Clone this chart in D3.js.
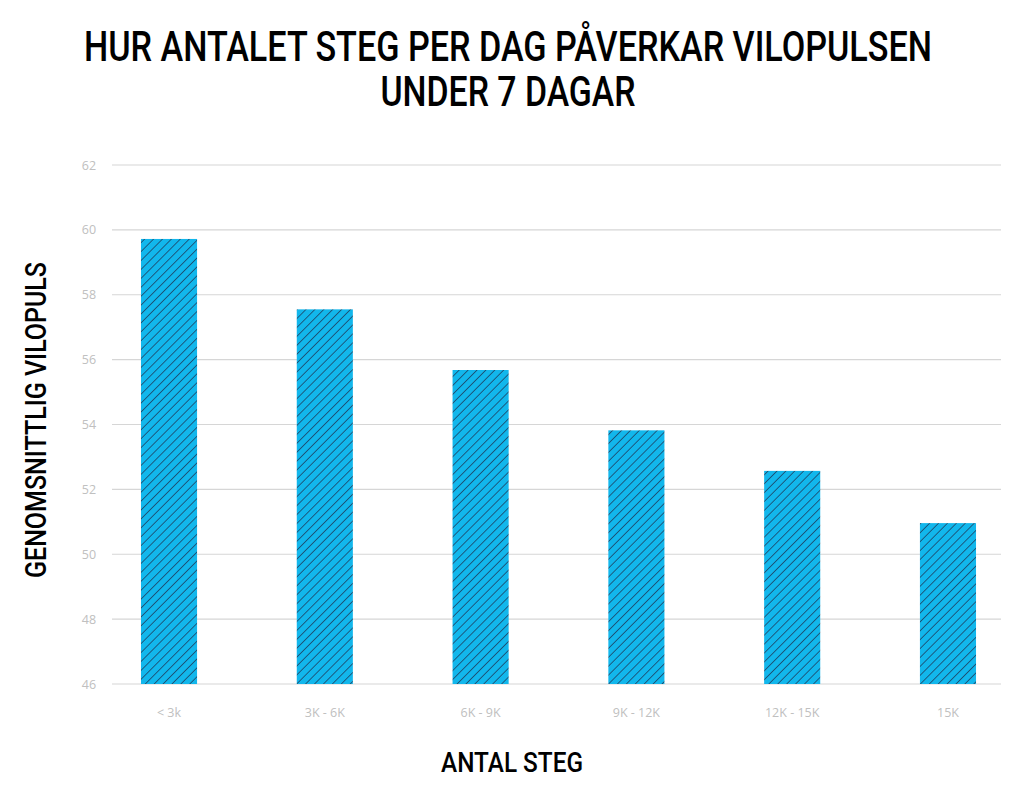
<!DOCTYPE html>
<html>
<head>
<meta charset="utf-8">
<script src="https://cdn.jsdelivr.net/npm/d3@7"></script>
<style>
  body { margin: 0; background: #fff; }
  svg { display: block; }
</style>
</head>
<body>
<svg id="chart" width="1024" height="798"></svg>
<script>
const categories = ['< 3k', '3K - 6K', '6K - 9K', '9K - 12K', '12K - 15K', '15K'];
const pulseValues = [59.72, 57.55, 55.68, 53.82, 52.57, 50.96];
const yTicks = [46, 48, 50, 52, 54, 56, 58, 60, 62];
const titleLines = ['HUR ANTALET STEG PER DAG PÅVERKAR VILOPULSEN', 'UNDER 7 DAGAR'];
const yTitle = 'GENOMSNITTLIG VILOPULS';
const xTitle = 'ANTAL STEG';

const svg = d3.select('#chart');
const heavy = 'Roboto, "Liberation Sans Narrow", sans-serif';

const x = d3.scaleBand()
  .domain(categories)
  .range([112, 1005])
  .paddingInner(0.64)
  .paddingOuter(0.186);

const y = d3.scaleLinear()
  .domain([46, 62])
  .range([684, 165]);

// hatch pattern
const defs = svg.append('defs');
const pat = defs.append('pattern')
  .attr('id', 'hatch')
  .attr('patternUnits', 'userSpaceOnUse')
  .attr('width', 6.3)
  .attr('height', 6.3)
  .attr('patternTransform', 'rotate(45)');
pat.append('rect').attr('width', 6.3).attr('height', 6.3).attr('fill', '#12b7ec');
pat.append('line')
  .attr('x1', 0).attr('y1', 0).attr('x2', 0).attr('y2', 6.3)
  .attr('stroke', '#1d4466').attr('stroke-width', 1.6);

// grid
svg.append('g')
  .selectAll('line')
  .data(yTicks)
  .join('line')
  .attr('x1', 112)
  .attr('x2', 1001)
  .attr('y1', d => y(d))
  .attr('y2', d => y(d))
  .attr('stroke', '#d6d6d6')
  .attr('stroke-width', 1.2);

svg.append('g')
  .selectAll('text')
  .data(yTicks)
  .join('text')
  .attr('x', 89)
  .attr('y', d => y(d) + 4.5)
  .attr('text-anchor', 'middle')
  .attr('font-family', '"Open Sans", sans-serif')
  .attr('font-size', 12.5)
  .attr('fill', '#c0c0c0')
  .text(d => d);

// bars
svg.append('g')
  .selectAll('rect')
  .data(pulseValues)
  .join('rect')
  .attr('x', (d, i) => x(categories[i]))
  .attr('width', x.bandwidth())
  .attr('y', d => y(d))
  .attr('height', d => y(46) - y(d))
  .attr('fill', 'url(#hatch)');

// x labels
svg.append('g')
  .selectAll('text')
  .data(categories)
  .join('text')
  .attr('x', d => x(d) + x.bandwidth() / 2)
  .attr('y', 717)
  .attr('text-anchor', 'middle')
  .attr('font-family', '"Open Sans", sans-serif')
  .attr('font-size', 12.5)
  .attr('fill', '#c0c0c0')
  .text(d => d);

// titles
const titleWidths = [848, 255];
svg.append('g')
  .selectAll('text')
  .data(titleLines)
  .join('text')
  .attr('x', 508)
  .attr('y', (d, i) => 61 + i * 45)
  .attr('text-anchor', 'middle')
  .attr('font-family', heavy)
  .attr('font-weight', 500)
  .attr('font-size', 42)
  .attr('textLength', (d, i) => titleWidths[i])
  .attr('lengthAdjust', 'spacingAndGlyphs')
  .attr('fill', '#000')
  .text(d => d);

svg.append('text')
  .attr('transform', 'translate(46,420) rotate(-90)')
  .attr('text-anchor', 'middle')
  .attr('font-family', heavy)
  .attr('font-weight', 500)
  .attr('font-size', 29)
  .attr('textLength', 316)
  .attr('lengthAdjust', 'spacingAndGlyphs')
  .attr('fill', '#000')
  .text(yTitle);

svg.append('text')
  .attr('x', 512)
  .attr('y', 772)
  .attr('text-anchor', 'middle')
  .attr('font-family', heavy)
  .attr('font-weight', 500)
  .attr('font-size', 28)
  .attr('textLength', 142)
  .attr('lengthAdjust', 'spacingAndGlyphs')
  .attr('fill', '#000')
  .text(xTitle);
</script>
</body>
</html>
